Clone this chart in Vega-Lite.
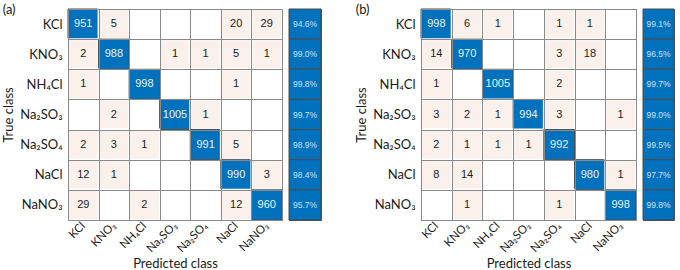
{
  "$schema": "https://vega.github.io/schema/vega-lite/v6.json",
  "padding": {"left": 2, "top": 2, "right": 2, "bottom": 0},
  "background": "white",
  "config": {
    "view": {"stroke": "#505050", "strokeWidth": 1},
    "axis": {"labelFont": "Lato", "titleFont": "Lato", "labelColor": "#1a1a1a", "titleColor": "#1a1a1a", "titleFontWeight": "normal"},
    "title": {"font": "Lato", "fontSize": 13, "fontWeight": "normal", "color": "#1a1a1a"}
  },
  "datasets": {
    "cells": [
      {"panel": "a", "actual": "KCl", "pred": "KCl", "n": 951},
      {"panel": "a", "actual": "KCl", "pred": "KNO₃", "n": 5},
      {"panel": "a", "actual": "KCl", "pred": "NaCl", "n": 20},
      {"panel": "a", "actual": "KCl", "pred": "NaNO₃", "n": 29},
      {"panel": "a", "actual": "KNO₃", "pred": "KCl", "n": 2},
      {"panel": "a", "actual": "KNO₃", "pred": "KNO₃", "n": 988},
      {"panel": "a", "actual": "KNO₃", "pred": "Na₂SO₃", "n": 1},
      {"panel": "a", "actual": "KNO₃", "pred": "Na₂SO₄", "n": 1},
      {"panel": "a", "actual": "KNO₃", "pred": "NaCl", "n": 5},
      {"panel": "a", "actual": "KNO₃", "pred": "NaNO₃", "n": 1},
      {"panel": "a", "actual": "NH₄Cl", "pred": "KCl", "n": 1},
      {"panel": "a", "actual": "NH₄Cl", "pred": "NH₄Cl", "n": 998},
      {"panel": "a", "actual": "NH₄Cl", "pred": "NaCl", "n": 1},
      {"panel": "a", "actual": "Na₂SO₃", "pred": "KNO₃", "n": 2},
      {"panel": "a", "actual": "Na₂SO₃", "pred": "Na₂SO₃", "n": 1005},
      {"panel": "a", "actual": "Na₂SO₃", "pred": "Na₂SO₄", "n": 1},
      {"panel": "a", "actual": "Na₂SO₄", "pred": "KCl", "n": 2},
      {"panel": "a", "actual": "Na₂SO₄", "pred": "KNO₃", "n": 3},
      {"panel": "a", "actual": "Na₂SO₄", "pred": "NH₄Cl", "n": 1},
      {"panel": "a", "actual": "Na₂SO₄", "pred": "Na₂SO₄", "n": 991},
      {"panel": "a", "actual": "Na₂SO₄", "pred": "NaCl", "n": 5},
      {"panel": "a", "actual": "NaCl", "pred": "KCl", "n": 12},
      {"panel": "a", "actual": "NaCl", "pred": "KNO₃", "n": 1},
      {"panel": "a", "actual": "NaCl", "pred": "NaCl", "n": 990},
      {"panel": "a", "actual": "NaCl", "pred": "NaNO₃", "n": 3},
      {"panel": "a", "actual": "NaNO₃", "pred": "KCl", "n": 29},
      {"panel": "a", "actual": "NaNO₃", "pred": "NH₄Cl", "n": 2},
      {"panel": "a", "actual": "NaNO₃", "pred": "NaCl", "n": 12},
      {"panel": "a", "actual": "NaNO₃", "pred": "NaNO₃", "n": 960},
      {"panel": "b", "actual": "KCl", "pred": "KCl", "n": 998},
      {"panel": "b", "actual": "KCl", "pred": "KNO₃", "n": 6},
      {"panel": "b", "actual": "KCl", "pred": "NH₄Cl", "n": 1},
      {"panel": "b", "actual": "KCl", "pred": "Na₂SO₄", "n": 1},
      {"panel": "b", "actual": "KCl", "pred": "NaCl", "n": 1},
      {"panel": "b", "actual": "KNO₃", "pred": "KCl", "n": 14},
      {"panel": "b", "actual": "KNO₃", "pred": "KNO₃", "n": 970},
      {"panel": "b", "actual": "KNO₃", "pred": "Na₂SO₄", "n": 3},
      {"panel": "b", "actual": "KNO₃", "pred": "NaCl", "n": 18},
      {"panel": "b", "actual": "NH₄Cl", "pred": "KCl", "n": 1},
      {"panel": "b", "actual": "NH₄Cl", "pred": "NH₄Cl", "n": 1005},
      {"panel": "b", "actual": "NH₄Cl", "pred": "Na₂SO₄", "n": 2},
      {"panel": "b", "actual": "Na₂SO₃", "pred": "KCl", "n": 3},
      {"panel": "b", "actual": "Na₂SO₃", "pred": "KNO₃", "n": 2},
      {"panel": "b", "actual": "Na₂SO₃", "pred": "NH₄Cl", "n": 1},
      {"panel": "b", "actual": "Na₂SO₃", "pred": "Na₂SO₃", "n": 994},
      {"panel": "b", "actual": "Na₂SO₃", "pred": "Na₂SO₄", "n": 3},
      {"panel": "b", "actual": "Na₂SO₃", "pred": "NaNO₃", "n": 1},
      {"panel": "b", "actual": "Na₂SO₄", "pred": "KCl", "n": 2},
      {"panel": "b", "actual": "Na₂SO₄", "pred": "KNO₃", "n": 1},
      {"panel": "b", "actual": "Na₂SO₄", "pred": "NH₄Cl", "n": 1},
      {"panel": "b", "actual": "Na₂SO₄", "pred": "Na₂SO₃", "n": 1},
      {"panel": "b", "actual": "Na₂SO₄", "pred": "Na₂SO₄", "n": 992},
      {"panel": "b", "actual": "NaCl", "pred": "KCl", "n": 8},
      {"panel": "b", "actual": "NaCl", "pred": "KNO₃", "n": 14},
      {"panel": "b", "actual": "NaCl", "pred": "NaCl", "n": 980},
      {"panel": "b", "actual": "NaCl", "pred": "NaNO₃", "n": 1},
      {"panel": "b", "actual": "NaNO₃", "pred": "KNO₃", "n": 1},
      {"panel": "b", "actual": "NaNO₃", "pred": "Na₂SO₄", "n": 1},
      {"panel": "b", "actual": "NaNO₃", "pred": "NaNO₃", "n": 998}
    ],
    "acc": [
      {"panel": "a", "actual": "KCl", "acc": 0.946},
      {"panel": "a", "actual": "KNO₃", "acc": 0.990},
      {"panel": "a", "actual": "NH₄Cl", "acc": 0.998},
      {"panel": "a", "actual": "Na₂SO₃", "acc": 0.997},
      {"panel": "a", "actual": "Na₂SO₄", "acc": 0.989},
      {"panel": "a", "actual": "NaCl", "acc": 0.984},
      {"panel": "a", "actual": "NaNO₃", "acc": 0.957},
      {"panel": "b", "actual": "KCl", "acc": 0.991},
      {"panel": "b", "actual": "KNO₃", "acc": 0.965},
      {"panel": "b", "actual": "NH₄Cl", "acc": 0.997},
      {"panel": "b", "actual": "Na₂SO₃", "acc": 0.990},
      {"panel": "b", "actual": "Na₂SO₄", "acc": 0.995},
      {"panel": "b", "actual": "NaCl", "acc": 0.977},
      {"panel": "b", "actual": "NaNO₃", "acc": 0.998}
    ]
  },
  "spacing": 33,
  "hconcat": [
    {
      "spacing": 4,
      "hconcat": [
        {
          "data": {"name": "cells"},
          "transform": [{"filter": "datum.panel === 'a'"}],
          "width": 214, "height": 211,
          "title": {"text": "(a)", "anchor": "start", "frame": "bounds", "offset": -14},
          "encoding": {
            "x": {"field": "pred", "type": "nominal", "scale": {"domain": ["KCl", "KNO₃", "NH₄Cl", "Na₂SO₃", "Na₂SO₄", "NaCl", "NaNO₃"]},
                  "axis": {"title": "Predicted class", "titleFontSize": 13, "titlePadding": 3, "labelFontSize": 11.5, "labelAngle": -45, "labelAlign": "right", "labelBaseline": "middle", "grid": true, "tickBand": "extent", "ticks": false, "domain": false, "gridColor": "#8a8a8a", "labelPadding": 4, "zindex": 1}},
            "y": {"field": "actual", "type": "nominal", "scale": {"domain": ["KCl", "KNO₃", "NH₄Cl", "Na₂SO₃", "Na₂SO₄", "NaCl", "NaNO₃"]},
                  "axis": {"title": "True class", "titleFontSize": 13, "labelFontSize": 13, "grid": true, "tickBand": "extent", "ticks": false, "domain": false, "gridColor": "#8a8a8a", "labelPadding": 6, "zindex": 1}}
          },
          "layer": [
            {"mark": {"type": "rect"},
             "encoding": {
               "fill": {"condition": {"test": "datum.actual === datum.pred", "value": "#0072BD"}, "value": "#FBF1EC"},
               "stroke": {"condition": {"test": "datum.actual === datum.pred", "value": "#4a4a4a"}, "value": "#ffffff"},
               "strokeWidth": {"condition": {"test": "datum.actual === datum.pred", "value": 1}, "value": 2}}},
            {"mark": {"type": "text", "font": "Liberation Sans", "fontSize": 11},
             "encoding": {
               "text": {"field": "n", "type": "quantitative"},
               "color": {"condition": {"test": "datum.actual === datum.pred", "value": "#eaf2fa"}, "value": "#1a1a1a"}}}
          ]
        },
        {
          "data": {"name": "acc"},
          "transform": [{"filter": "datum.panel === 'a'"}],
          "width": 32, "height": 211,
          "encoding": {
            "y": {"field": "actual", "type": "nominal", "scale": {"domain": ["KCl", "KNO₃", "NH₄Cl", "Na₂SO₃", "Na₂SO₄", "NaCl", "NaNO₃"]}, "axis": null}
          },
          "layer": [
            {"mark": {"type": "rect", "fill": "#0072BD", "stroke": "#4a4a4a", "strokeWidth": 1}},
            {"mark": {"type": "text", "font": "Liberation Sans", "fontSize": 8.5, "color": "#cfe2f3"},
             "encoding": {"text": {"field": "acc", "type": "quantitative", "format": ".1%"}}}
          ]
        }
      ]
    },
    {
      "spacing": 4,
      "hconcat": [
        {
          "data": {"name": "cells"},
          "transform": [{"filter": "datum.panel === 'b'"}],
          "width": 215, "height": 211,
          "title": {"text": "(b)", "anchor": "start", "frame": "bounds", "offset": -14},
          "encoding": {
            "x": {"field": "pred", "type": "nominal", "scale": {"domain": ["KCl", "KNO₃", "NH₄Cl", "Na₂SO₃", "Na₂SO₄", "NaCl", "NaNO₃"]},
                  "axis": {"title": "Predicted class", "titleFontSize": 13, "titlePadding": 3, "labelFontSize": 11.5, "labelAngle": -45, "labelAlign": "right", "labelBaseline": "middle", "grid": true, "tickBand": "extent", "ticks": false, "domain": false, "gridColor": "#8a8a8a", "labelPadding": 4, "zindex": 1}},
            "y": {"field": "actual", "type": "nominal", "scale": {"domain": ["KCl", "KNO₃", "NH₄Cl", "Na₂SO₃", "Na₂SO₄", "NaCl", "NaNO₃"]},
                  "axis": {"title": "True class", "titleFontSize": 13, "labelFontSize": 13, "grid": true, "tickBand": "extent", "ticks": false, "domain": false, "gridColor": "#8a8a8a", "labelPadding": 6, "zindex": 1}}
          },
          "layer": [
            {"mark": {"type": "rect"},
             "encoding": {
               "fill": {"condition": {"test": "datum.actual === datum.pred", "value": "#0072BD"}, "value": "#FBF1EC"},
               "stroke": {"condition": {"test": "datum.actual === datum.pred", "value": "#4a4a4a"}, "value": "#ffffff"},
               "strokeWidth": {"condition": {"test": "datum.actual === datum.pred", "value": 1}, "value": 2}}},
            {"mark": {"type": "text", "font": "Liberation Sans", "fontSize": 11},
             "encoding": {
               "text": {"field": "n", "type": "quantitative"},
               "color": {"condition": {"test": "datum.actual === datum.pred", "value": "#eaf2fa"}, "value": "#1a1a1a"}}}
          ]
        },
        {
          "data": {"name": "acc"},
          "transform": [{"filter": "datum.panel === 'b'"}],
          "width": 31, "height": 211,
          "encoding": {
            "y": {"field": "actual", "type": "nominal", "scale": {"domain": ["KCl", "KNO₃", "NH₄Cl", "Na₂SO₃", "Na₂SO₄", "NaCl", "NaNO₃"]}, "axis": null}
          },
          "layer": [
            {"mark": {"type": "rect", "fill": "#0072BD", "stroke": "#4a4a4a", "strokeWidth": 1}},
            {"mark": {"type": "text", "font": "Liberation Sans", "fontSize": 8.5, "color": "#cfe2f3"},
             "encoding": {"text": {"field": "acc", "type": "quantitative", "format": ".1%"}}}
          ]
        }
      ]
    }
  ]
}
